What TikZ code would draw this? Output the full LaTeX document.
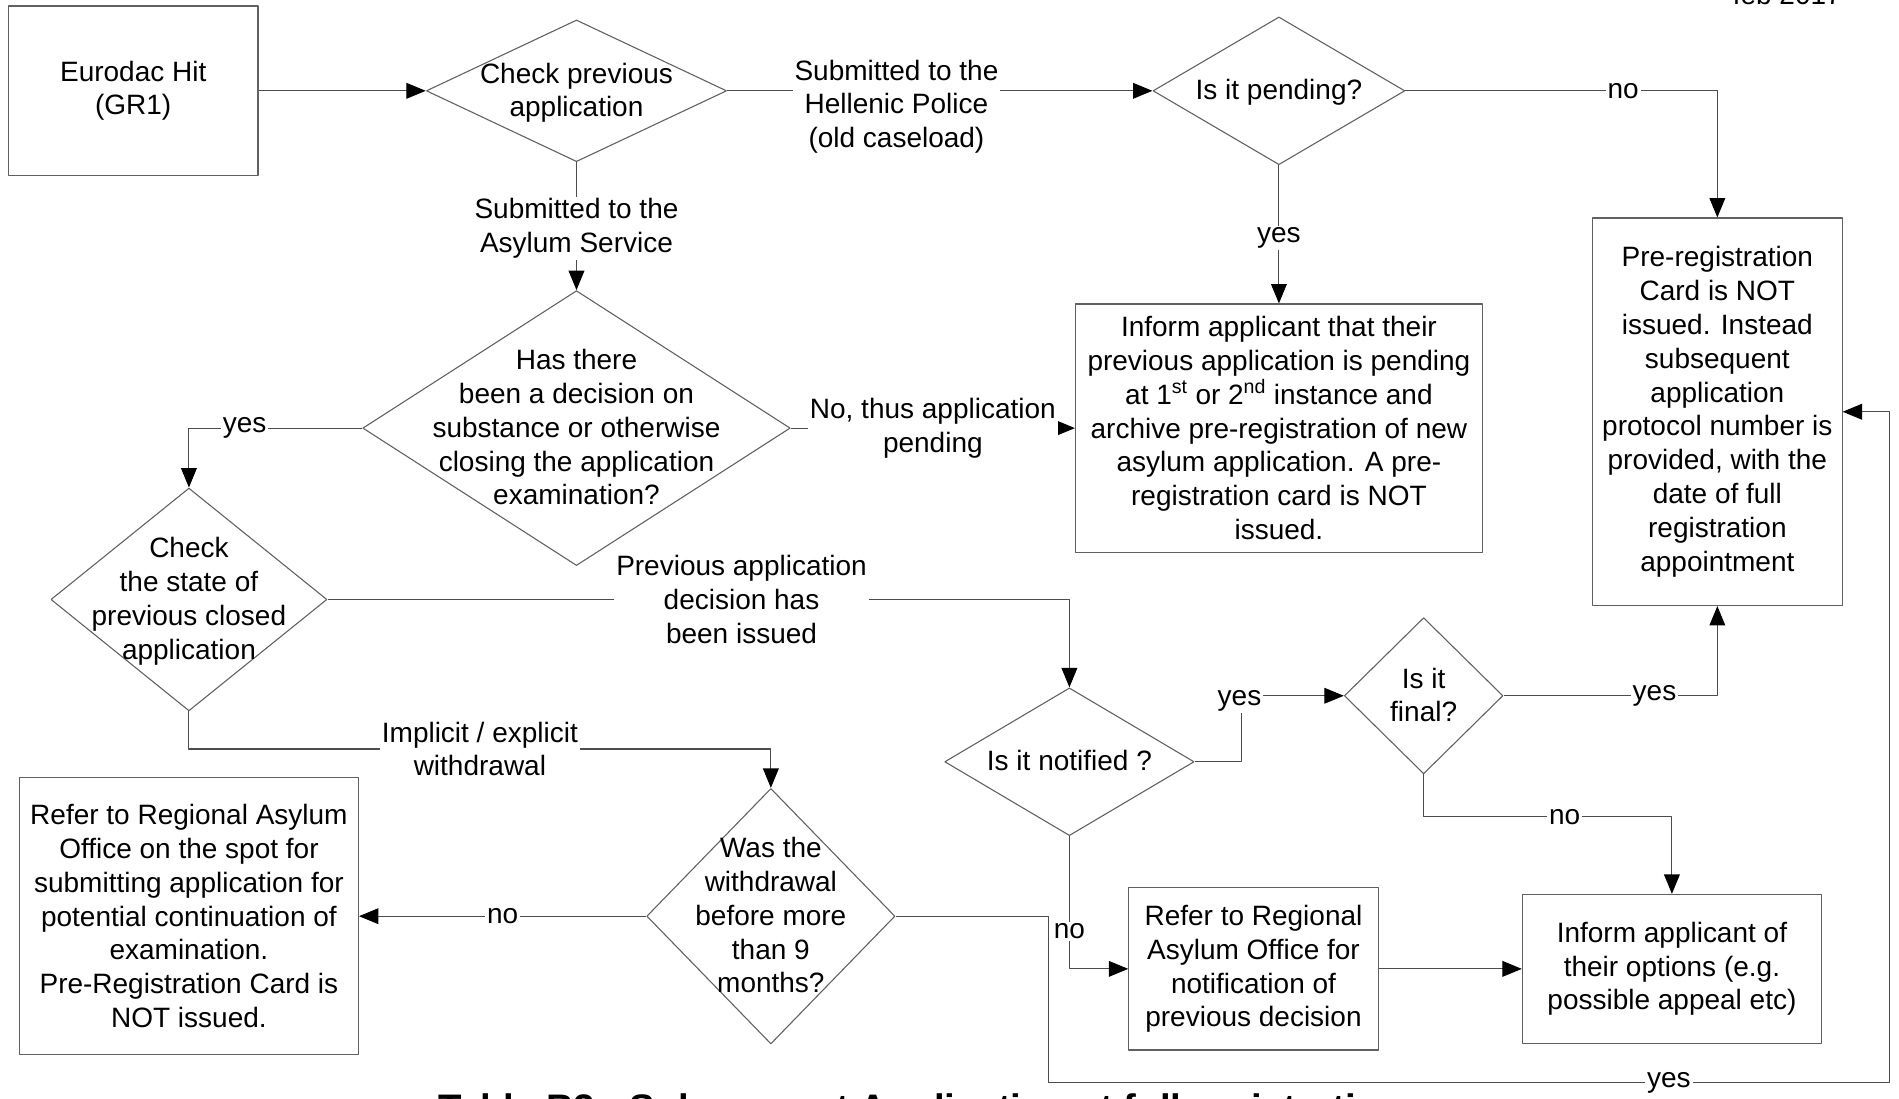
\documentclass[tikz,border=0pt]{standalone}
\usepackage{fontspec}
\setmainfont{Liberation Sans}
\usetikzlibrary{shapes,arrows.meta}

\definecolor{linegrey}{rgb}{0.3,0.3,0.3}
\definecolor{boxgrey}{rgb}{0.38,0.38,0.38}
% text of a decision, centred and taking no room
\newcommand{\dtext}[1]{\makebox[0pt]{\smash{\raisebox{\dimexpr(\depth-\height)/2-2bp\relax}{\begin{tabular}{@{}c@{}}#1\end{tabular}}}}}

\begin{document}
\begin{tikzpicture}[>={Triangle[length=16bp,width=13bp,color=black]},line join=bevel,
  font=\fontsize{23.2}{28}\selectfont,
  box/.style={draw=boxgrey,rectangle,align=center,inner sep=2bp},
  decision/.style={draw=boxgrey,diamond,inner sep=0pt},
  conn/.style={draw=linegrey,->},
  elabel/.style={fill=white,inner sep=1.5bp,align=center}]
  \pgfsetlinewidth{0.9bp}
  \useasboundingbox (0bp,0bp) rectangle (1568bp,907bp);
%%
  % Node: hit
  \node[box,minimum width=206bp,minimum height=140bp] (hit) at (110bp,832bp) {Eurodac Hit\\(GR1)};
  % Node: checkprev
  \node[decision,minimum width=248bp,minimum height=117bp] (checkprev) at (476bp,832bp) {\dtext{Check previous\\application}};
  % Node: pending
  \node[decision,minimum width=208bp,minimum height=122bp] (pending) at (1056bp,832bp) {\dtext{Is it pending?}};
  % Node: prereg
  \node[box,minimum width=206bp,minimum height=320bp] (prereg) at (1418bp,567bp) {Pre-registration\\Card is NOT\\issued. Instead\\subsequent\\application\\protocol number is\\provided, with the\\date of full\\registration\\appointment};
  % Node: informpend
  \node[box,minimum width=336bp,minimum height=205bp] (informpend) at (1056bp,553.5bp) {Inform applicant that their\\previous application is pending\\at 1\textsuperscript{st} or 2\textsuperscript{nd} instance and\\archive pre-registration of new\\asylum application. A pre-\\registration card is NOT\\issued.};
  % Node: hasthere
  \node[decision,minimum width=353bp,minimum height=227bp] (hasthere) at (476bp,553.5bp) {\dtext{Has there\\been a decision on\\substance or otherwise\\closing the application\\examination?}};
  % Node: checkstate
  \node[decision,minimum width=228bp,minimum height=184bp] (checkstate) at (156bp,412bp) {\dtext{Check\\the state of\\previous closed\\application}};
  % Node: notified
  \node[decision,minimum width=206bp,minimum height=122bp] (notified) at (883bp,278bp) {\dtext{Is it notified ?}};
  % Node: final
  \node[decision,minimum width=131bp,minimum height=129bp] (final) at (1175.5bp,332.5bp) {\dtext{Is it\\final?}};
  % Node: options
  \node[box,minimum width=247bp,minimum height=123bp] (options) at (1380.5bp,107bp) {Inform applicant of\\their options (e.g.\\possible appeal etc)};
  % Node: referdec
  \node[box,minimum width=206bp,minimum height=134bp] (referdec) at (1035bp,107bp) {Refer to Regional\\Asylum Office for\\notification of\\previous decision};
  % Node: withdrawal
  \node[decision,minimum width=205bp,minimum height=211bp] (withdrawal) at (636.5bp,150.5bp) {\dtext{Was the\\withdrawal\\before more\\than 9\\months?}};
  % Node: referspot
  \node[box,minimum width=280bp,minimum height=229bp] (referspot) at (156bp,150.5bp) {Refer to Regional Asylum\\Office on the spot for\\submitting application for\\potential continuation of\\examination.\\Pre-Registration Card is\\NOT issued.};
  % Texts at the edges of the page
  \node[anchor=base west] (date) at (1427bp,903bp) {feb 2017};
  \node[anchor=base west,font=\fontsize{31.8}{38}\selectfont\bfseries] (title) at (358bp,-19bp) {Table B2 - Subsequent Application at full registration};
  \coordinate (loop) at (1560bp,13bp);
%%
  % Edge: hit -> checkprev
  \draw[conn] (hit) -- (checkprev);
  % Edge: checkprev -> pending
  \draw[conn] (checkprev) -- node[elabel,pos=0.398,yshift=-13bp] (lpolice) {Submitted to the\\Hellenic Police\\(old caseload)} (pending);
  % Edge: checkprev -> hasthere
  \draw[conn] (checkprev) -- node[elabel,yshift=-2bp] (lservice) {Submitted to the\\Asylum Service} (hasthere);
  % Edge: pending -> prereg
  \draw[conn] (pending) -| node[elabel,pos=0.349] (lno1) {no} (prereg);
  % Edge: pending -> informpend
  \draw[conn] (pending) -- node[elabel,yshift=-3bp] (lyes1) {yes} (informpend);
  % Edge: hasthere -> informpend
  \draw[conn] (hasthere) -- node[elabel] (lpend) {No, thus application\\pending} (informpend);
  % Edge: hasthere -> checkstate
  \draw[conn] (hasthere) -| node[elabel,pos=0.339] (lyes2) {yes} (checkstate);
  % Edge: checkstate -> notified
  \draw[conn] (checkstate) -| node[elabel,pos=0.279] (lissued) {Previous application\\decision has\\been issued} (notified);
  % Edge: notified -> final
  \draw[conn] (notified.east) -- ++(39bp,0) |- node[elabel,pos=0.5,xshift=-2bp,yshift=-4bp] (lyes3) {yes} (final.west);
  % Edge: final -> prereg
  \draw[conn] (final) -| node[elabel,pos=0.353] (lyes4) {yes} (prereg);
  % Edge: final -> options
  \draw[conn] (final.south) -- ++(0,-35bp) -| node[elabel,pos=0.284] (lno2) {no} (options.north);
  % Edge: notified -> referdec
  \draw[conn] (notified) |- node[elabel,pos=0.359] (lno3) {no} (referdec);
  % Edge: referdec -> options
  \draw[conn] (referdec) -- (options);
  % Edge: checkstate -> withdrawal
  \draw[conn] (checkstate.south) -- ++(0,-31bp) -| node[elabel,pos=0.25] (lwithdr) {Implicit / explicit\\withdrawal} (withdrawal.north);
  % Edge: withdrawal -> referspot
  \draw[conn] (withdrawal) -- node[elabel] (lno4) {no} (referspot);
  % Edge: withdrawal -> prereg
  \draw[conn] (withdrawal.east) -- ++(126bp,0) |- node[elabel,pos=0.869] (lyes5) {yes} (loop) |- (prereg.east);
%
\end{tikzpicture}
\end{document}
